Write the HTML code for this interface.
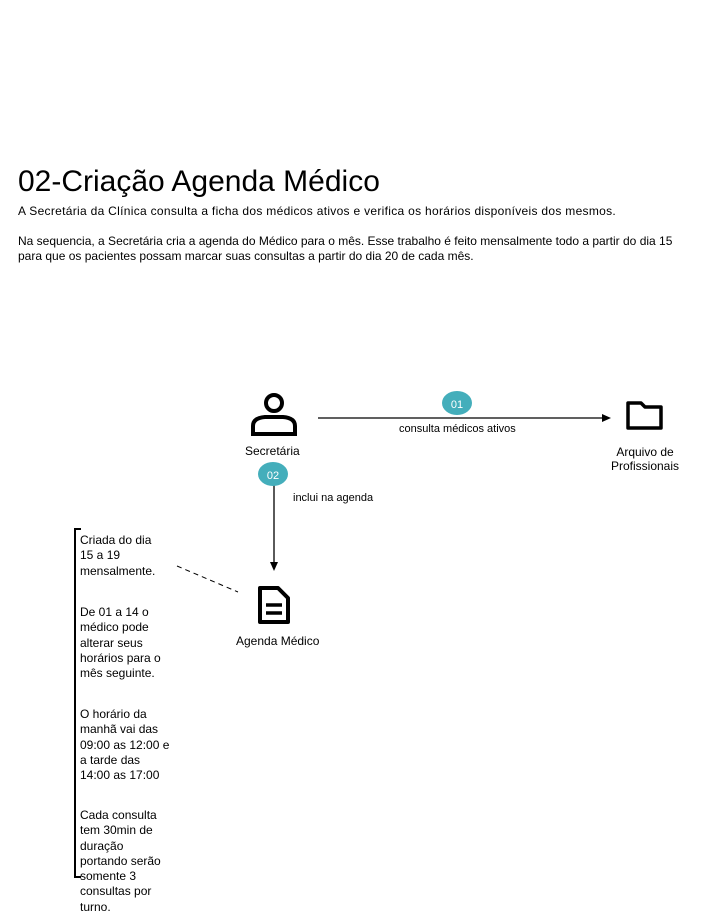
<!DOCTYPE html>
<html><head><meta charset="utf-8"><style>
body{margin:0;width:705px;height:923px;background:#fff;position:relative;font-family:"Liberation Sans",Arial,sans-serif;color:#000;overflow:hidden}
.a{position:absolute;white-space:nowrap}
.s{position:absolute;left:80px;font-size:12px;line-height:15.3px;white-space:nowrap}
</style></head><body>
<div class="a" style="left:18px;top:165px;font-size:30px;">02-Criação Agenda Médico</div>
<div class="a" style="left:18px;top:204px;font-size:12px;line-height:15px"><span style="letter-spacing:0.3px">A Secretária da Clínica consulta a ficha dos médicos ativos e verifica os horários disponíveis dos mesmos.</span><br><br>Na sequencia, a Secretária cria a agenda do Médico para o mês. Esse trabalho é feito mensalmente todo a partir do dia 15<br>para que os pacientes possam marcar suas consultas a partir do dia 20 de cada mês.</div>
<svg class="a" style="left:0;top:0" width="705" height="923">
<path d="M81 529H75V877H81" fill="none" stroke="#000" stroke-width="2"/>
<line x1="177" y1="566" x2="238" y2="592" stroke="#000" stroke-dasharray="5,4"/>
<line x1="318" y1="418" x2="603" y2="418" stroke="#000" stroke-width="1.3"/>
<path d="M611 418L602 414V422Z" fill="#000"/>
<line x1="274" y1="485" x2="274" y2="563" stroke="#000" stroke-width="1.3"/>
<path d="M274 571L270 562H278Z" fill="#000"/>
<ellipse cx="457" cy="403" rx="15" ry="12" fill="#44aebb"/>
<ellipse cx="273" cy="474" rx="15" ry="12" fill="#44aebb"/>
<text x="457" y="408" font-size="11" fill="#fff" text-anchor="middle">01</text>
<text x="273" y="479" font-size="11" fill="#fff" text-anchor="middle">02</text>
<circle cx="274" cy="403" r="8" fill="none" stroke="#000" stroke-width="4"/>
<path d="M253 434V426Q253 418 265 417H283Q295 418 295 426V434Z" fill="none" stroke="#000" stroke-width="4"/>
<path d="M628 403H641L645 407H661V428H628Z" fill="none" stroke="#000" stroke-width="3.5" stroke-linejoin="round"/>
<path d="M260 588H278L288 598V622H260Z" fill="none" stroke="#000" stroke-width="4" stroke-linejoin="round"/>
<path d="M266 605H282M266 613H282" stroke="#000" stroke-width="3.5"/>
</svg>
<div class="a" style="left:245px;top:444px;font-size:12px">Secretária</div>
<div class="a" style="left:399px;top:423px;font-size:11px">consulta médicos ativos</div>
<div class="a" style="left:293px;top:492px;font-size:11px">inclui na agenda</div>
<div class="a" style="left:605px;top:445px;width:80px;text-align:center;font-size:12px;line-height:14px">Arquivo de<br>Profissionais</div>
<div class="a" style="left:236px;top:634px;font-size:12px">Agenda Médico</div>
<div class="s" style="top:533px">Criada do dia<br>15 a 19<br>mensalmente.</div>
<div class="s" style="top:605px">De 01 a 14 o<br>médico pode<br>alterar seus<br>horários para o<br>mês seguinte.</div>
<div class="s" style="top:707px">O horário da<br>manhã vai das<br>09:00 as 12:00 e<br>a tarde das<br>14:00 as 17:00</div>
<div class="s" style="top:808px">Cada consulta<br>tem 30min de<br>duração<br>portando serão<br>somente 3<br>consultas por<br>turno.</div>
</body></html>
